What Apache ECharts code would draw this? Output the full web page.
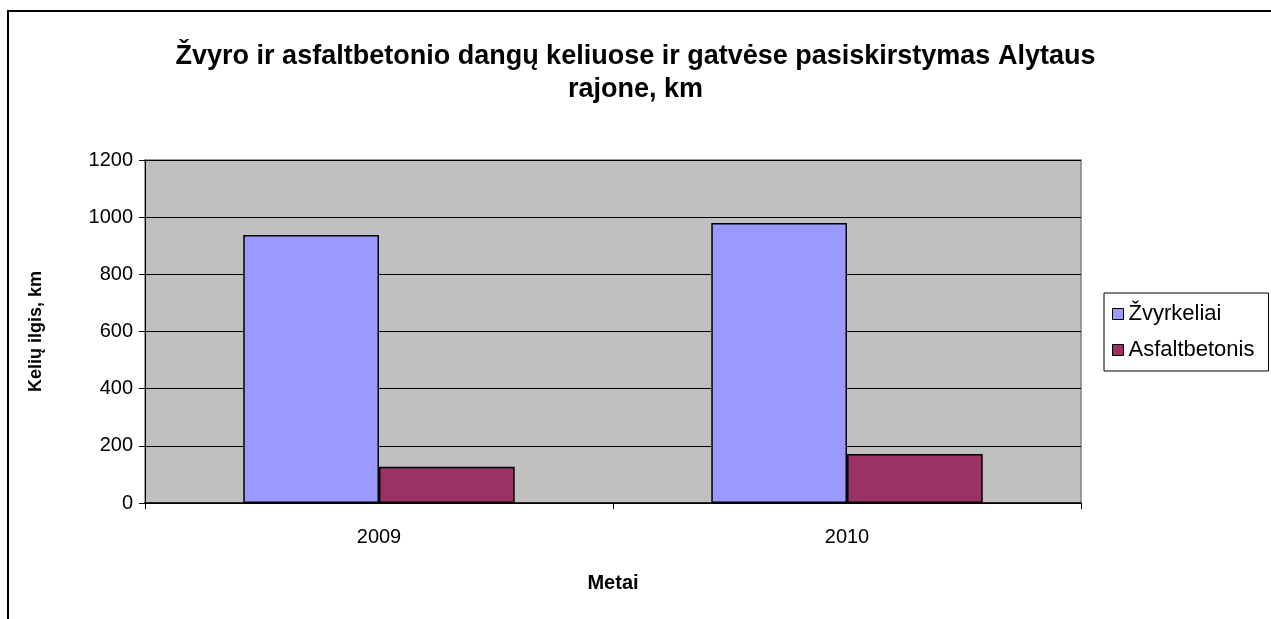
<!DOCTYPE html>
<html>
<head>
<meta charset="utf-8">
<script src="https://cdn.jsdelivr.net/npm/echarts@6/dist/echarts.min.js"></script>
<style>
  html, body { margin: 0; padding: 0; background: #fff; }
  #chart { width: 1271px; height: 619px; }
</style>
</head>
<body>
<div id="chart"></div>
<script>
const years = ['2009', '2010']
const zvyrkeliai = [938, 980]
const asfaltbetonis = [127, 171]
const seriesNames = ['Žvyrkeliai', 'Asfaltbetonis']
const yTicks = { min: 0, max: 1200, interval: 200 }

const font = 'Liberation Sans, Arial, sans-serif'

const chart = echarts.init(document.getElementById('chart'))

const option = {
  backgroundColor: '#fff',
  animation: false,
  textStyle: { fontFamily: font, color: '#000' },
  title: {
    text: 'Žvyro ir asfaltbetonio dangų keliuose ir gatvėse pasiskirstymas Alytaus\nrajone, km',
    left: 'center',
    top: 35,
    textStyle: { fontFamily: font, fontSize: 27, fontWeight: 'bold', color: '#000', lineHeight: 33 }
  },
  // outer chart frame, right and bottom edges fall outside the picture
  graphic: [{
    type: 'rect',
    shape: { x: 8, y: 11, width: 1400, height: 800 },
    style: { fill: 'none', stroke: '#000', lineWidth: 2 },
    silent: true,
    z: -1
  }],
  legend: {
    orient: 'vertical',
    left: 1104,
    top: 293,
    backgroundColor: '#fff',
    borderColor: '#000',
    borderWidth: 1,
    padding: [10, 14, 10, 8],
    itemGap: 14,
    itemWidth: 11,
    itemHeight: 11,
    icon: 'rect',
    itemStyle: { borderColor: '#000', borderWidth: 1 },
    textStyle: { fontFamily: font, fontSize: 22, color: '#000' },
    data: seriesNames
  },
  grid: {
    left: 145,
    right: 190,
    top: 160,
    bottom: 116,
    show: true,
    backgroundColor: '#C0C0C0',
    borderColor: '#808080',
    borderWidth: 1.5
  },
  xAxis: {
    type: 'category',
    data: years,
    name: 'Metai',
    nameLocation: 'middle',
    nameGap: 70,
    nameTextStyle: { fontFamily: font, fontSize: 20, fontWeight: 'bold', color: '#000' },
    axisLine: { lineStyle: { color: '#000', width: 1.5 } },
    axisTick: { show: true, length: 6, lineStyle: { color: '#000' } },
    axisLabel: { fontFamily: font, fontSize: 20, color: '#000', margin: 24 }
  },
  yAxis: {
    type: 'value',
    min: yTicks.min,
    max: yTicks.max,
    interval: yTicks.interval,
    name: 'Kelių ilgis, km',
    nameLocation: 'middle',
    nameRotate: 90,
    nameGap: 100,
    nameTextStyle: { fontFamily: font, fontSize: 18, fontWeight: 'bold', color: '#000' },
    axisLine: { show: true, lineStyle: { color: '#000', width: 1 } },
    axisTick: { show: true, length: 6, lineStyle: { color: '#000' } },
    axisLabel: { fontFamily: font, fontSize: 20, color: '#000', margin: 12, formatter: v => String(v) },
    splitLine: { lineStyle: { color: '#000', width: 1 } }
  },
  series: [
    {
      name: seriesNames[0],
      type: 'bar',
      data: zvyrkeliai,
      barGap: '0%',
      barCategoryGap: '42%',
      itemStyle: { color: '#9999FF', borderColor: '#000', borderWidth: 1.5 }
    },
    {
      name: seriesNames[1],
      type: 'bar',
      data: asfaltbetonis,
      itemStyle: { color: '#993366', borderColor: '#000', borderWidth: 1.5 }
    }
  ]
}

chart.setOption(option)
</script>
</body>
</html>
